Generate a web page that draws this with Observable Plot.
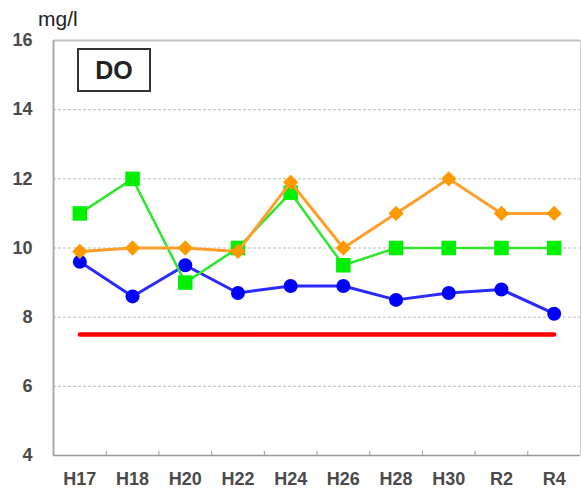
<!DOCTYPE html>
<html>
<head>
<meta charset="utf-8">
<script src="https://cdn.jsdelivr.net/npm/d3@7"></script>
<script src="https://cdn.jsdelivr.net/npm/@observablehq/plot@0.6"></script>
<style>
  body { margin: 0; background: #fff; }
  #wrap { position: relative; width: 581px; height: 491px; font-family: "Liberation Sans", Arial, sans-serif; }
  #unit { position: absolute; left: 38px; top: 8px; font-size: 21px; line-height: 21px; color: #222; font-family: "Liberation Sans", Arial, sans-serif; }
  #title { position: absolute; left: 77px; top: 48px; width: 70px; height: 40px; border: 2px solid #333;
           font-size: 25px; font-weight: bold; color: #222; display: flex; align-items: center; justify-content: center; }
</style>
</head>
<body>
<div id="wrap">
  <div id="chart"></div>
  <div id="unit"></div>
  <div id="title"></div>
</div>
<script>
const years = ["H17","H18","H20","H22","H24","H26","H28","H30","R2","R4"];
const blueSeries = [9.6, 8.6, 9.5, 8.7, 8.9, 8.9, 8.5, 8.7, 8.8, 8.1];
const greenSeries = [11.0, 12.0, 9.0, 10.0, 11.6, 9.5, 10.0, 10.0, 10.0, 10.0];
const orangeSeries = [9.9, 10.0, 10.0, 9.9, 11.9, 10.0, 11.0, 12.0, 11.0, 11.0];
const standardValue = 7.5;
const yTicks = [4, 6, 8, 10, 12, 14, 16];
const gridTicks = [6, 8, 10, 12, 14];
const unitLabel = "mg/l";
const chartTitle = "DO";

document.getElementById("unit").textContent = unitLabel;
document.getElementById("title").textContent = chartTitle;

const idx = years.map((_, i) => i);
const toRows = arr => arr.map((v, i) => ({i, v}));
const blueRows = toRows(blueSeries);
const greenRows = toRows(greenSeries);
const orangeRows = toRows(orangeSeries);
const redRows = years.map((_, i) => ({i, v: standardValue}));
const boundaries = years.slice(1).map((_, i) => i + 0.5);
const lo = -0.5, hi = years.length - 0.5;

const chart = Plot.plot({
  width: 581,
  height: 491,
  marginLeft: 53,
  marginRight: 1,
  marginTop: 40,
  marginBottom: 36,
  style: {fontFamily: "Liberation Sans, Arial, sans-serif", background: "#fff"},
  x: {domain: [lo, hi]},
  y: {domain: [yTicks[0], yTicks[yTicks.length - 1]]},
  marks: [
    Plot.ruleY(gridTicks, {stroke: "#bbb", strokeWidth: 1, strokeDasharray: "3,2"}),
    Plot.ruleY([yTicks[yTicks.length - 1]], {stroke: "#c4c4c4", strokeWidth: 2}),
    Plot.ruleX([hi], {stroke: "#d0d0d0", strokeWidth: 1}),
    Plot.ruleX([lo], {stroke: "#aaa", strokeWidth: 2}),
    Plot.ruleY([yTicks[0]], {stroke: "#999", strokeWidth: 1.5}),
    Plot.ruleX(boundaries, {y1: yTicks[0], y2: yTicks[0] + 0.12, stroke: "#999", strokeWidth: 1}),
    Plot.axisY({ticks: yTicks, tickSize: 0, tickPadding: 21, fontSize: 18, fontWeight: "bold", fill: "#4a4a4a", label: null}),
    Plot.axisX({ticks: idx, tickFormat: i => years[i], tickSize: 0, tickPadding: 17, fontSize: 18, fontWeight: "bold", fill: "#4a4a4a", label: null}),
    Plot.line(redRows, {x: "i", y: "v", stroke: "#ff0000", strokeWidth: 4.5}),
    Plot.line(blueRows, {x: "i", y: "v", stroke: "#2a2aff", strokeWidth: 3}),
    Plot.dot(blueRows, {x: "i", y: "v", symbol: "circle", r: 7, fill: "#0000ff", stroke: "none"}),
    Plot.line(greenRows, {x: "i", y: "v", stroke: "#2ee62e", strokeWidth: 2.5}),
    Plot.dot(greenRows, {x: "i", y: "v", symbol: "square", r: 8.2, fill: "#00f000", stroke: "none"}),
    Plot.line(orangeRows, {x: "i", y: "v", stroke: "#ff9f2a", strokeWidth: 3}),
    Plot.dot(orangeRows, {x: "i", y: "v", symbol: "diamond2", r: 6.9, fill: "#ff9900", stroke: "none"})
  ]
});
document.getElementById("chart").appendChild(chart);
</script>
</body>
</html>
